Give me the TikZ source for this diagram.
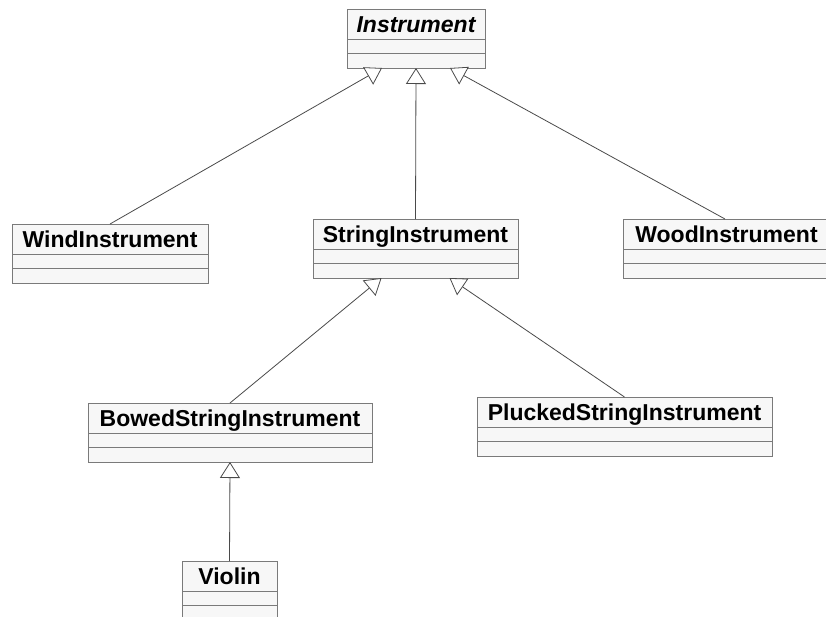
\documentclass[tikz,border=0pt]{standalone}
\usepackage{fontspec}
\setmainfont{Liberation Sans}
\usetikzlibrary{arrows.meta,positioning}
\definecolor{umlline}{HTML}{7A7A7A}
\definecolor{umlfill}{HTML}{F7F7F7}
\definecolor{umledge}{HTML}{4A4A4A}

\begin{document}
\begin{tikzpicture}[x=1pt,y=-1pt,
  cls/.style={draw=umlline,fill=umlfill,line width=1pt,outer sep=0pt,inner sep=0pt,minimum height=30pt,text height=16.5pt,text depth=0pt,font=\fontsize{23}{23}\selectfont\bfseries},
  comp/.style={draw=umlline,fill=umlfill,line width=1pt,outer sep=0pt,inner sep=0pt,minimum height=14.5pt},
  isa/.style={-{Triangle[open,length=16pt,width=20pt,fill=white]},color=umledge,line width=0.8pt}]
\useasboundingbox (0,0) rectangle (826,616);
\clip (0,0) rectangle (826,616);
\fill[white] (0,0) rectangle (826,616);
% classes: name row + two empty compartments
\node[cls,minimum width=138pt,font=\fontsize{23}{23}\selectfont\bfseries\itshape] (inst) at (416,24) {Instrument};
\node[comp,minimum width=138pt,below=0pt of inst] (inst-a) {};
\node[comp,minimum width=138pt,below=0pt of inst-a] (inst-b) {};
\node[cls,minimum width=196pt] (wind) at (110,239) {WindInstrument};
\node[comp,minimum width=196pt,below=0pt of wind] (wind-a) {};
\node[comp,minimum width=196pt,below=0pt of wind-a] (wind-b) {};
\node[cls,minimum width=205pt] (string) at (415.5,234) {StringInstrument};
\node[comp,minimum width=205pt,below=0pt of string] (string-a) {};
\node[comp,minimum width=205pt,below=0pt of string-a] (string-b) {};
\node[cls,minimum width=207pt] (wood) at (726.5,234) {WoodInstrument};
\node[comp,minimum width=207pt,below=0pt of wood] (wood-a) {};
\node[comp,minimum width=207pt,below=0pt of wood-a] (wood-b) {};
\node[cls,minimum width=284pt] (bowed) at (230,418) {BowedStringInstrument};
\node[comp,minimum width=284pt,below=0pt of bowed] (bowed-a) {};
\node[comp,minimum width=284pt,below=0pt of bowed-a] (bowed-b) {};
\node[cls,minimum width=295pt] (plucked) at (624.5,412) {PluckedStringInstrument};
\node[comp,minimum width=295pt,below=0pt of plucked] (plucked-a) {};
\node[comp,minimum width=295pt,below=0pt of plucked-a] (plucked-b) {};
\node[cls,minimum width=95pt] (violin) at (229.5,576) {Violin};
\node[comp,minimum width=95pt,below=0pt of violin] (violin-a) {};
\node[comp,minimum width=95pt,below=0pt of violin-a] (violin-b) {};
% generalizations
\draw[isa] (wind.north) -- ([xshift=-34pt]inst-b.south);
\draw[isa] (string.north) -- (inst-b.south);
\draw[isa] ([xshift=-1.5pt]wood.north) -- ([xshift=34pt]inst-b.south);
\draw[isa] (bowed.north) -- ([xshift=-34pt]string-b.south);
\draw[isa] (plucked.north) -- ([xshift=34pt]string-b.south);
\draw[isa] (violin.north) -- (bowed-b.south);
\end{tikzpicture}
\end{document}
